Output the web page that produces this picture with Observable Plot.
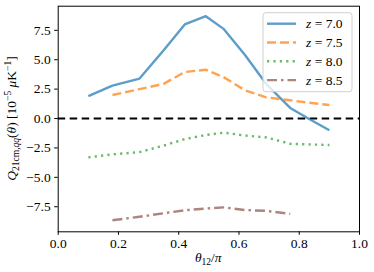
<!DOCTYPE html>
<html><head><meta charset="utf-8">
<script src="https://cdn.jsdelivr.net/npm/d3@7"></script>
<script src="https://cdn.jsdelivr.net/npm/@observablehq/plot@0.6"></script>
<style>body{margin:0;background:#fff} svg text{font-family:"Liberation Serif","Times New Roman",serif !important;}</style>
</head><body><div id="chart"></div>
<script>
const theta = [0.10, 0.18, 0.27, 0.35, 0.42, 0.49, 0.55, 0.62, 0.69, 0.77, 0.83, 0.90];
const z70 = [1.9, 2.8, 3.4, 5.8, 8.0, 8.7, 7.6, 5.4, 2.95, 0.9, 0.0, -1.0];
const z75 = [null, 2.0, 2.5, 2.95, 3.95, 4.15, 3.5, 2.4, 1.8, 1.55, 1.35, 1.15];
const z80 = [-3.3, -3.05, -2.85, -2.3, -1.75, -1.4, -1.2, -1.45, -1.6, -2.15, -2.2, -2.25];
const z85 = [null, -8.65, -8.35, -8.05, -7.8, -7.65, -7.55, -7.78, -7.85, -8.1, null, null];
const seriesNames = ["7.0", "7.5", "8.0", "8.5"];
const seriesVals = [z70, z75, z80, z85];
const colors = ["#1f77b4", "#ff7f0e", "#2ca02c", "#8c564b"];
const dashes = [null, "9,4", "2.2,4.2", "10,4,2.5,4"];
const xTicks = [0, 0.2, 0.4, 0.6, 0.8, 1.0];
const yTicks = [-7.5, -5.0, -2.5, 0.0, 2.5, 5.0, 7.5];

const fmt = d => d.toFixed(1).replace("-", "\u2212");
const font = "Liberation Serif";

const lineMarks = seriesVals.map((vals, i) => Plot.line(
  theta.map((t, j) => ({t, v: vals[j]})).filter(d => d.v !== null),
  {x: "t", y: "v", stroke: colors[i], strokeOpacity: 0.72, strokeWidth: 2.4,
   strokeDasharray: dashes[i], strokeLinecap: "butt", strokeLinejoin: "round"}
));

const svg = Plot.plot({
  width: 374, height: 272,
  marginLeft: 57.7, marginRight: 15, marginTop: 5.7, marginBottom: 40.7,
  style: {fontFamily: font, fontSize: "13.5px", background: "white", color: "black"},
  x: {domain: [0, 1]},
  y: {domain: [-9.63, 9.55]},
  marks: [
    Plot.ruleY([0], {stroke: "black", strokeWidth: 2, strokeDasharray: "7.5,4.5"}),
    ...lineMarks,
    Plot.frame({stroke: "black", strokeWidth: 1}),
    Plot.axisX({ticks: xTicks, tickFormat: fmt, tickSize: 3.5, tickPadding: 3, label: null, fontSize: 13.5}),
    Plot.axisY({ticks: yTicks, tickFormat: fmt, tickSize: 3.5, tickPadding: 4, label: null, fontSize: 13.5})
  ]
});

const s = d3.select(svg);
// x label
const xl = s.append("text").attr("x", 208.3).attr("y", 262).attr("text-anchor", "middle")
  .attr("font-size", 13.5).attr("fill", "black");
xl.append("tspan").attr("font-style", "italic").text("θ");
xl.append("tspan").attr("dy", 3).attr("font-size", 9.5).text("12");
xl.append("tspan").attr("dy", -3).text("/");
xl.append("tspan").attr("font-style", "italic").text("π");

// y label
const yl = s.append("text").attr("transform", "translate(16,118.5) rotate(-90)")
  .attr("text-anchor", "middle").attr("font-size", 13.5).attr("fill", "black");
yl.append("tspan").attr("font-style", "italic").text("Q");
yl.append("tspan").attr("dy", 3).attr("font-size", 9.5).text("21cm,");
yl.append("tspan").attr("font-size", 9.5).attr("font-style", "italic").text("qq");
yl.append("tspan").attr("dy", -3).text("(");
yl.append("tspan").attr("font-style", "italic").text("θ");
yl.append("tspan").text(") [10");
yl.append("tspan").attr("dy", -5).attr("font-size", 9.5).text("\u22125");
yl.append("tspan").attr("dy", 5).text(" ");
yl.append("tspan").attr("font-style", "italic").text("μ");
yl.append("tspan").text("K");
yl.append("tspan").attr("dy", -5).attr("font-size", 9.5).text("\u22121");
yl.append("tspan").attr("dy", 5).text("]");

// legend
const lg = s.append("g");
lg.append("rect").attr("x", 263).attr("y", 12.7).attr("width", 89).attr("height", 79)
  .attr("rx", 3).attr("fill", "white").attr("fill-opacity", 0.8).attr("stroke", "#d0d0d0").attr("stroke-width", 1);
seriesNames.forEach((n, i) => {
  const y = 23.7 + i * 18.8;
  lg.append("line").attr("x1", 267).attr("x2", 296).attr("y1", y).attr("y2", y)
    .attr("stroke", colors[i]).attr("stroke-opacity", 0.72).attr("stroke-width", 2.4)
    .attr("stroke-dasharray", dashes[i]);
  const t = lg.append("text").attr("x", 306).attr("y", y + 4.5).attr("text-anchor", "start")
    .attr("font-size", 13.5).attr("fill", "black");
  t.append("tspan").attr("font-style", "italic").text("z");
  t.append("tspan").text(" = " + n);
});

document.getElementById("chart").appendChild(svg);
</script></body></html>
